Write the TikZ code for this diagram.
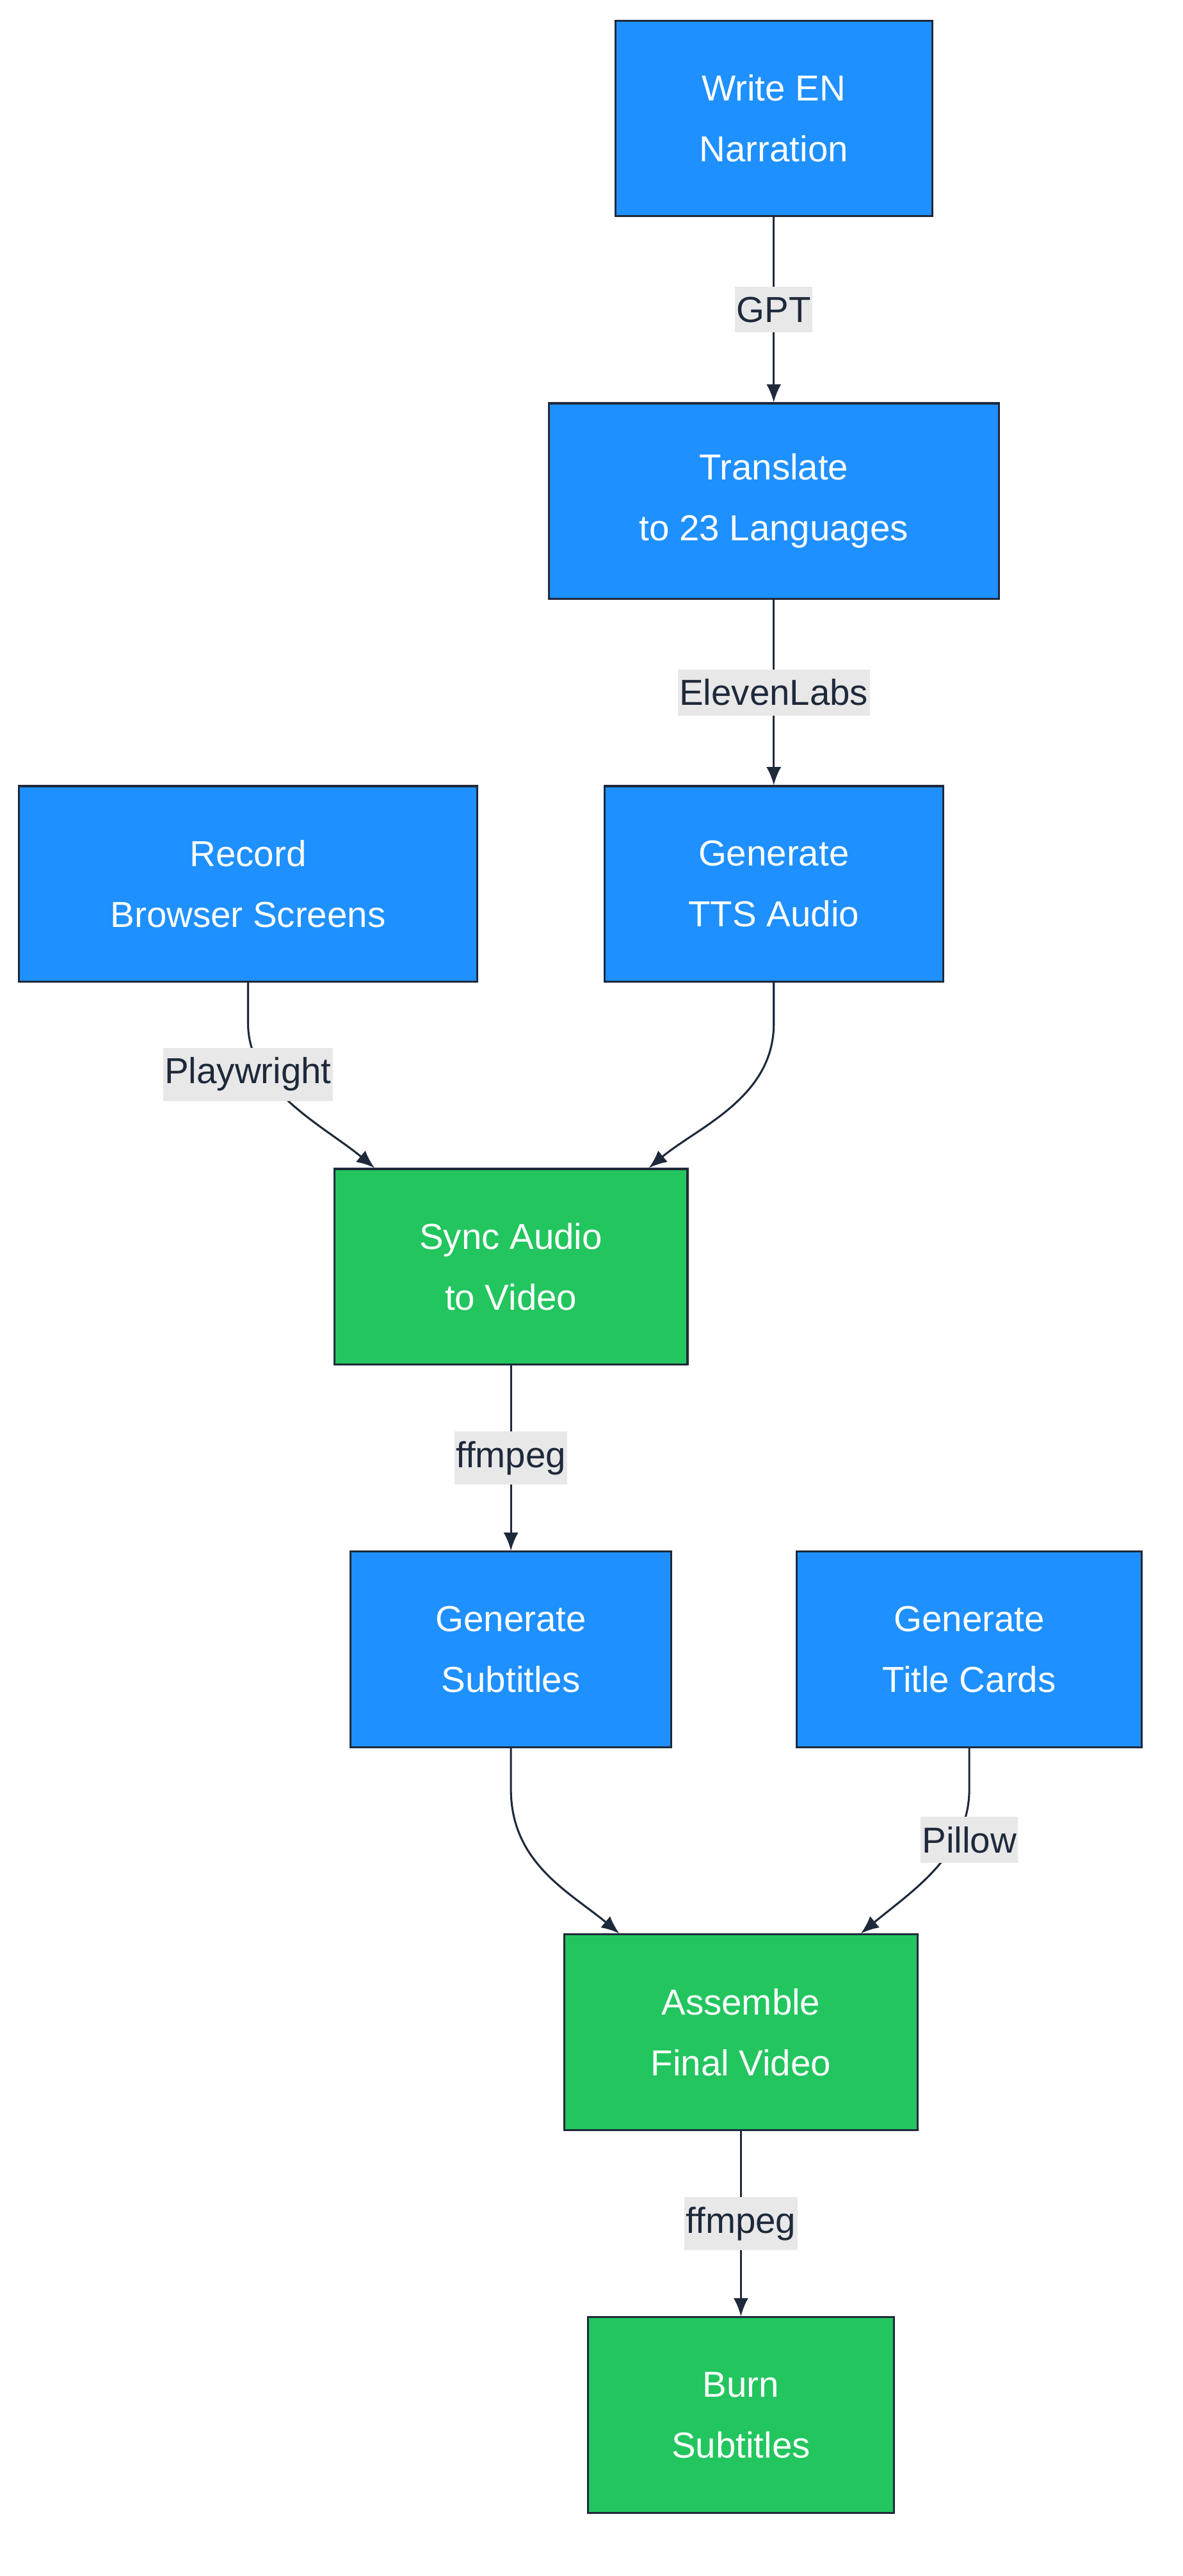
\documentclass[tikz,border=0pt]{standalone}
\usepackage{fontspec}
\setmainfont{Liberation Sans}
\usetikzlibrary{arrows.meta}
\definecolor{stepblue}{HTML}{1E90FF}
\definecolor{stepgreen}{HTML}{22C55E}
\definecolor{edgeink}{HTML}{1E293B}
\definecolor{tagbg}{HTML}{E8E8E8}
\tikzset{>={Latex[width=9pt,length=11pt]}}
\tikzset{
  stage/.style={draw=edgeink, line width=1.2pt, text=white, align=center,
    inner sep=0pt, minimum height=119pt,
    font=\fontsize{22}{37}\selectfont},
  bluestage/.style={stage, fill=stepblue},
  greenstage/.style={stage, fill=stepgreen},
  tag/.style={fill=tagbg, text=edgeink, inner xsep=1pt, inner ysep=6pt,
    font=\fontsize{22}{26}\selectfont},
  link/.style={draw=edgeink, line width=1.2pt, ->}
}
\begin{document}
\begin{tikzpicture}[x=1pt,y=-1pt]
  \useasboundingbox (0,0) rectangle (720,1568);

  % stages
  \node[bluestage, minimum width=193pt] (write) at (471,72) {Write EN\\Narration};
  \node[bluestage, minimum width=274pt] (trans) at (471,305) {Translate\\to 23 Languages};
  \node[bluestage, minimum width=279pt] (rec) at (151,538) {Record\\Browser Screens};
  \node[bluestage, minimum width=206pt] (tts) at (471,538) {Generate\\TTS Audio};
  \node[greenstage, minimum width=215pt] (sync) at (311,771) {Sync Audio\\to Video};
  \node[bluestage, minimum width=195pt] (subs) at (311,1004) {Generate\\Subtitles};
  \node[bluestage, minimum width=210pt] (cards) at (590,1004) {Generate\\Title Cards};
  \node[greenstage, minimum width=215pt] (asm) at (451,1237) {Assemble\\Final Video};
  \node[greenstage, minimum width=186pt] (burn) at (451,1470) {Burn\\Subtitles};

  % straight links
  \draw[link] (write) -- node[tag]{GPT} (trans);
  \draw[link] (trans) -- node[tag]{ElevenLabs} (tts);
  \draw[link] (sync) -- node[tag]{ffmpeg} (subs);
  \draw[link] (asm) -- node[tag]{ffmpeg} (burn);

  % curved links
  \draw[link] (rec.south) -- ++(0,25) .. controls +(0,40) and +(-30,-25) .. ([xshift=-83pt]sync.north);
  \node[tag] (tagpw) at (151,654) {Playwright};
  \draw[link] (tts.south) -- ++(0,25) .. controls +(0,45) and +(30,-25) .. ([xshift=84pt]sync.north);
  \draw[link] (subs.south) -- ++(0,25) .. controls +(0,45) and +(-30,-25) .. ([xshift=-74pt]asm.north);
  \draw[link] (cards.south) -- ++(0,25) .. controls +(0,40) and +(30,-25) .. ([xshift=73pt]asm.north);
  \node[tag] (tagpil) at (590,1120) {Pillow};
\end{tikzpicture}
\end{document}
